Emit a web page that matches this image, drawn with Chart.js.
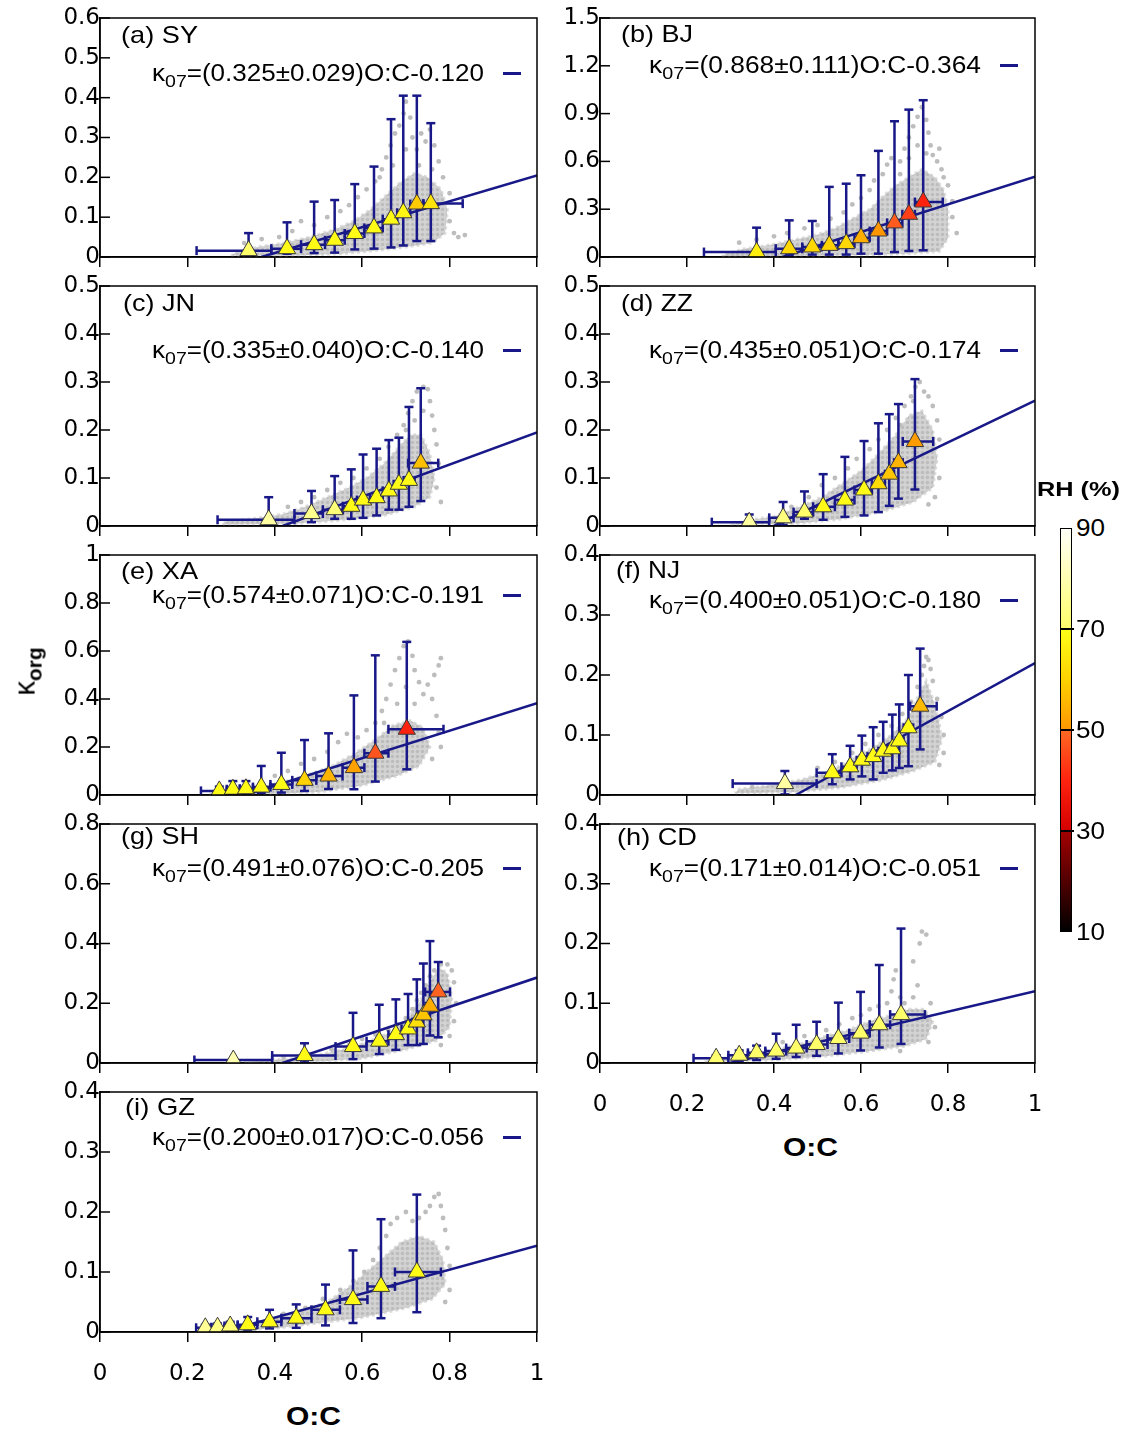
<!DOCTYPE html>
<html>
<head>
<meta charset="utf-8">
<title>korg vs O:C</title>
<script src="https://cdn.jsdelivr.net/npm/chart.js@4.4.1/dist/chart.umd.min.js"></script>
<style>
  html,body{margin:0;padding:0;background:#fff;}
  body{width:1127px;height:1432px;position:relative;overflow:hidden;font-family:"Liberation Sans",Arial,Helvetica,sans-serif;color:#000;}
  .pn{position:absolute;}
  .pn canvas{display:block;}
  .t{position:absolute;white-space:nowrap;line-height:1;transform-origin:0 50%;}
  .sub{font-size:0.75em;position:relative;top:0.36em;}
  .leg{position:absolute;height:3px;width:18px;background:#181888;}
</style>
</head>
<body>
<script>
// ---------------- DATA ----------------
const sites   = ['SY','BJ','JN','ZZ','XA','NJ','SH','CD','GZ'];
const letters = ['a','b','c','d','e','f','g','h','i'];
const yMaxes  = [0.6, 1.5, 0.5, 0.5, 1, 0.4, 0.8, 0.4, 0.4];
const ySteps  = [0.1, 0.3, 0.1, 0.1, 0.2, 0.1, 0.2, 0.1, 0.1];
const xMin = 0, xMax = 1, xStep = 0.2;
const rhTicks = [90, 70, 50, 30, 10];

// (a) SY
const SY_oc   = [0.340,0.428,0.490,0.537,0.583,0.627,0.666,0.694,0.725,0.757];
const SY_k    = [0.016,0.021,0.031,0.042,0.059,0.073,0.095,0.111,0.133,0.134];
const SY_kLo  = [0.004,0.008,0.010,0.011,0.019,0.021,0.024,0.029,0.040,0.040];
const SY_kHi  = [0.060,0.087,0.139,0.143,0.183,0.227,0.346,0.405,0.405,0.336];
const SY_ocLo = [0.221,0.392,0.460,0.515,0.560,0.605,0.647,0.680,0.710,0.740];
const SY_ocHi = [0.392,0.460,0.515,0.560,0.605,0.647,0.680,0.710,0.740,0.830];
const SY_rh   = [70,69,69,69,69,69,69,68,59,64];
const SY_fit  = [0.325,0.029,-0.120];
const SY_core = [[0.30,0.003],[0.45,0.004],[0.55,0.008],[0.62,0.015],[0.70,0.025],[0.76,0.035],[0.79,0.06],[0.795,0.12],[0.78,0.17],[0.75,0.20],[0.72,0.21],[0.69,0.19],[0.66,0.16],[0.62,0.12],[0.58,0.09],[0.54,0.07],[0.48,0.05],[0.42,0.035],[0.36,0.025],[0.31,0.012]];
const SY_dots = [[0.33,0.035],[0.37,0.045],[0.41,0.05],[0.44,0.065],[0.46,0.09],[0.49,0.08],[0.52,0.10],[0.55,0.115],[0.57,0.13],[0.59,0.15],[0.61,0.17],[0.63,0.19],[0.645,0.22],[0.655,0.25],[0.665,0.28],[0.675,0.31],[0.685,0.33],[0.695,0.36],[0.70,0.39],[0.71,0.35],[0.715,0.30],[0.725,0.27],[0.735,0.31],[0.745,0.29],[0.755,0.32],[0.765,0.28],[0.775,0.24],[0.785,0.20],[0.80,0.16],[0.81,0.06],[0.82,0.05],[0.835,0.055],[0.80,0.09],[0.67,0.23],[0.70,0.27],[0.73,0.23],[0.76,0.22],[0.64,0.20]];

// (b) BJ
const BJ_oc   = [0.360,0.435,0.488,0.527,0.566,0.600,0.640,0.677,0.710,0.743];
const BJ_k    = [0.031,0.052,0.063,0.073,0.084,0.121,0.163,0.214,0.268,0.345];
const BJ_kLo  = [0.004,0.010,0.015,0.015,0.015,0.021,0.021,0.031,0.038,0.042];
const BJ_kHi  = [0.184,0.230,0.226,0.440,0.460,0.513,0.666,0.852,0.925,0.984];
const BJ_ocLo = [0.239,0.404,0.465,0.510,0.548,0.585,0.620,0.660,0.695,0.724];
const BJ_ocHi = [0.404,0.465,0.510,0.548,0.585,0.620,0.660,0.695,0.724,0.788];
const BJ_rh   = [66,61,61,60,61,54,50,48,44,40];
const BJ_fit  = [0.868,0.111,-0.364];
const BJ_core = [[0.28,0.004],[0.45,0.006],[0.60,0.012],[0.70,0.02],[0.78,0.035],[0.80,0.12],[0.80,0.30],[0.79,0.42],[0.77,0.50],[0.74,0.55],[0.71,0.50],[0.68,0.45],[0.65,0.38],[0.62,0.30],[0.58,0.24],[0.54,0.18],[0.50,0.14],[0.45,0.11],[0.40,0.08],[0.33,0.05],[0.29,0.02]];
const BJ_dots = [[0.32,0.09],[0.36,0.11],[0.40,0.13],[0.43,0.15],[0.47,0.18],[0.50,0.20],[0.53,0.24],[0.56,0.28],[0.58,0.33],[0.60,0.37],[0.62,0.42],[0.63,0.48],[0.65,0.52],[0.66,0.58],[0.67,0.62],[0.69,0.60],[0.70,0.68],[0.71,0.75],[0.72,0.82],[0.73,0.88],[0.74,0.94],[0.75,0.86],[0.755,0.78],[0.76,0.70],[0.765,0.64],[0.775,0.60],[0.78,0.68],[0.785,0.55],[0.79,0.50],[0.80,0.45],[0.81,0.35],[0.81,0.25],[0.82,0.15],[0.73,0.70],[0.71,0.62],[0.75,0.65],[0.69,0.52]];

// (c) JN
const JN_oc   = [0.386,0.484,0.537,0.575,0.602,0.633,0.661,0.684,0.707,0.734];
const JN_k    = [0.013,0.026,0.034,0.041,0.054,0.059,0.073,0.087,0.095,0.131];
const JN_kLo  = [0.001,0.008,0.015,0.015,0.017,0.022,0.034,0.034,0.040,0.052];
const JN_kHi  = [0.060,0.073,0.104,0.118,0.149,0.161,0.179,0.184,0.248,0.287];
const JN_ocLo = [0.269,0.445,0.510,0.556,0.588,0.618,0.647,0.672,0.695,0.705];
const JN_ocHi = [0.445,0.510,0.556,0.588,0.618,0.647,0.672,0.695,0.720,0.774];
const JN_rh   = [78,75,72,69,69,69,69,69,69,57];
const JN_fit  = [0.335,0.040,-0.140];
const JN_core = [[0.28,0.003],[0.45,0.005],[0.55,0.012],[0.65,0.022],[0.72,0.04],[0.755,0.06],[0.765,0.10],[0.755,0.15],[0.735,0.19],[0.71,0.19],[0.68,0.16],[0.65,0.13],[0.61,0.10],[0.57,0.08],[0.52,0.06],[0.47,0.04],[0.42,0.025],[0.35,0.015],[0.29,0.01]];
const JN_dots = [[0.43,0.04],[0.46,0.05],[0.49,0.06],[0.52,0.075],[0.55,0.09],[0.58,0.10],[0.61,0.12],[0.64,0.14],[0.66,0.165],[0.68,0.19],[0.695,0.21],[0.705,0.235],[0.715,0.26],[0.725,0.28],[0.74,0.29],[0.75,0.285],[0.755,0.26],[0.76,0.23],[0.765,0.20],[0.77,0.17],[0.775,0.13],[0.77,0.08],[0.78,0.05],[0.72,0.22],[0.74,0.24],[0.70,0.20]];

// (d) ZZ
const ZZ_oc   = [0.343,0.421,0.470,0.513,0.563,0.607,0.640,0.665,0.686,0.724];
const ZZ_k    = [0.008,0.017,0.029,0.040,0.054,0.075,0.088,0.108,0.132,0.176];
const ZZ_kLo  = [0.001,0.002,0.015,0.013,0.019,0.022,0.029,0.042,0.057,0.076];
const ZZ_kHi  = [0.024,0.050,0.072,0.108,0.144,0.177,0.214,0.233,0.254,0.306];
const ZZ_ocLo = [0.257,0.389,0.445,0.490,0.540,0.585,0.625,0.655,0.676,0.696];
const ZZ_ocHi = [0.389,0.445,0.490,0.540,0.585,0.625,0.655,0.676,0.696,0.766];
const ZZ_rh   = [78,73,70,69,69,69,62,58,55,51];
const ZZ_fit  = [0.435,0.051,-0.174];
const ZZ_core = [[0.30,0.003],[0.45,0.005],[0.55,0.014],[0.65,0.03],[0.72,0.05],[0.765,0.08],[0.775,0.14],[0.765,0.20],[0.74,0.24],[0.71,0.23],[0.68,0.19],[0.64,0.15],[0.60,0.115],[0.56,0.09],[0.51,0.06],[0.46,0.04],[0.40,0.02],[0.34,0.012]];
const ZZ_dots = [[0.44,0.04],[0.48,0.06],[0.51,0.085],[0.54,0.10],[0.57,0.12],[0.59,0.14],[0.62,0.16],[0.64,0.18],[0.66,0.20],[0.68,0.225],[0.70,0.25],[0.715,0.27],[0.725,0.29],[0.735,0.30],[0.745,0.28],[0.755,0.27],[0.765,0.25],[0.775,0.22],[0.78,0.18],[0.78,0.10],[0.77,0.06],[0.755,0.045],[0.72,0.26],[0.69,0.21]];

// (e) XA
const XA_oc   = [0.273,0.304,0.334,0.369,0.415,0.468,0.523,0.581,0.630,0.702];
const XA_k    = [0.017,0.024,0.026,0.033,0.044,0.061,0.079,0.114,0.174,0.274];
const XA_kLo  = [0.002,0.004,0.006,0.008,0.010,0.017,0.025,0.024,0.056,0.107];
const XA_kHi  = [0.035,0.058,0.058,0.121,0.176,0.229,0.257,0.415,0.582,0.638];
const XA_ocLo = [0.231,0.290,0.320,0.350,0.390,0.440,0.495,0.555,0.605,0.660];
const XA_ocHi = [0.290,0.320,0.350,0.390,0.440,0.495,0.555,0.605,0.660,0.786];
const XA_rh   = [69,69,69,69,69,60,55,52,47,40];
const XA_fit  = [0.574,0.071,-0.191];
const XA_core = [[0.25,0.003],[0.40,0.005],[0.50,0.012],[0.60,0.04],[0.68,0.08],[0.73,0.12],[0.755,0.20],[0.74,0.28],[0.71,0.31],[0.67,0.29],[0.63,0.23],[0.58,0.17],[0.53,0.12],[0.47,0.08],[0.41,0.05],[0.34,0.025],[0.28,0.015]];
const XA_dots = [[0.40,0.08],[0.43,0.10],[0.46,0.13],[0.49,0.15],[0.52,0.18],[0.545,0.22],[0.565,0.255],[0.59,0.24],[0.61,0.27],[0.63,0.30],[0.645,0.35],[0.655,0.40],[0.665,0.46],[0.675,0.52],[0.685,0.57],[0.695,0.62],[0.705,0.64],[0.715,0.58],[0.72,0.52],[0.73,0.47],[0.74,0.42],[0.75,0.46],[0.76,0.40],[0.765,0.50],[0.775,0.54],[0.78,0.57],[0.77,0.33],[0.775,0.26],[0.78,0.20],[0.76,0.15],[0.70,0.45],[0.68,0.38],[0.72,0.38],[0.65,0.30]];

// (f) NJ
const NJ_oc   = [0.425,0.534,0.575,0.602,0.628,0.651,0.672,0.688,0.709,0.736];
const NJ_k    = [0.019,0.037,0.047,0.058,0.064,0.073,0.077,0.090,0.112,0.148];
const NJ_kLo  = [0.001,0.018,0.026,0.031,0.026,0.037,0.041,0.045,0.048,0.076];
const NJ_kHi  = [0.040,0.068,0.082,0.099,0.113,0.122,0.134,0.151,0.200,0.244];
const NJ_ocLo = [0.305,0.498,0.555,0.590,0.615,0.640,0.662,0.680,0.698,0.713];
const NJ_ocHi = [0.498,0.555,0.590,0.615,0.640,0.662,0.680,0.698,0.720,0.774];
const NJ_rh   = [78,69,69,69,69,69,69,69,69,56];
const NJ_fit  = [0.400,0.051,-0.180];
const NJ_core = [[0.31,0.003],[0.45,0.005],[0.55,0.012],[0.65,0.025],[0.72,0.04],[0.77,0.055],[0.785,0.09],[0.78,0.12],[0.765,0.16],[0.75,0.19],[0.735,0.17],[0.71,0.13],[0.67,0.10],[0.63,0.08],[0.58,0.06],[0.53,0.04],[0.46,0.025],[0.38,0.015],[0.32,0.01]];
const NJ_dots = [[0.50,0.045],[0.54,0.055],[0.58,0.07],[0.61,0.085],[0.64,0.10],[0.67,0.115],[0.695,0.135],[0.715,0.155],[0.73,0.18],[0.74,0.20],[0.745,0.215],[0.75,0.23],[0.755,0.225],[0.76,0.21],[0.765,0.19],[0.775,0.16],[0.785,0.13],[0.79,0.10],[0.79,0.07],[0.78,0.05],[0.35,0.013],[0.42,0.02]];

// (g) SH
const SH_oc   = [0.305,0.468,0.579,0.639,0.677,0.705,0.725,0.740,0.755,0.774];
const SH_k    = [0.010,0.025,0.055,0.073,0.095,0.114,0.137,0.161,0.190,0.238];
const SH_kLo  = [0.001,0.002,0.013,0.030,0.044,0.060,0.060,0.064,0.092,0.086];
const SH_kHi  = [0.012,0.066,0.168,0.195,0.213,0.231,0.280,0.333,0.408,0.338];
const SH_ocLo = [0.216,0.394,0.539,0.610,0.660,0.690,0.715,0.730,0.745,0.744];
const SH_ocHi = [0.394,0.539,0.610,0.660,0.690,0.715,0.730,0.745,0.760,0.801];
const SH_rh   = [80,69,69,69,69,69,63,58,54,49];
const SH_fit  = [0.491,0.076,-0.205];
const SH_core = [[0.33,0.002],[0.50,0.005],[0.60,0.015],[0.70,0.045],[0.77,0.075],[0.80,0.12],[0.805,0.22],[0.795,0.30],[0.775,0.32],[0.755,0.27],[0.73,0.20],[0.70,0.14],[0.66,0.10],[0.62,0.075],[0.57,0.05],[0.51,0.03],[0.44,0.015],[0.37,0.008]];
const SH_dots = [[0.42,0.02],[0.48,0.03],[0.53,0.045],[0.57,0.06],[0.60,0.08],[0.63,0.095],[0.66,0.11],[0.68,0.13],[0.70,0.15],[0.715,0.18],[0.725,0.21],[0.735,0.235],[0.745,0.26],[0.755,0.29],[0.765,0.31],[0.78,0.33],[0.795,0.33],[0.805,0.31],[0.81,0.27],[0.815,0.20],[0.81,0.14],[0.80,0.09],[0.78,0.06]];

// (h) CD
const CD_oc   = [0.267,0.320,0.360,0.405,0.451,0.498,0.548,0.599,0.642,0.692];
const CD_k    = [0.008,0.013,0.017,0.020,0.025,0.031,0.041,0.050,0.064,0.081];
const CD_kLo  = [0.001,0.003,0.005,0.007,0.010,0.012,0.016,0.021,0.026,0.032];
const CD_kHi  = [0.013,0.021,0.029,0.049,0.064,0.069,0.101,0.119,0.164,0.225];
const CD_ocLo = [0.215,0.295,0.340,0.380,0.428,0.475,0.523,0.573,0.620,0.667];
const CD_ocHi = [0.295,0.340,0.380,0.428,0.475,0.523,0.573,0.620,0.667,0.747];
const CD_rh   = [71,70,70,70,70,70,70,70,70,70];
const CD_fit  = [0.171,0.014,-0.051];
const CD_core = [[0.24,0.002],[0.40,0.005],[0.50,0.010],[0.60,0.018],[0.70,0.028],[0.75,0.04],[0.765,0.07],[0.745,0.09],[0.71,0.09],[0.67,0.08],[0.62,0.07],[0.57,0.055],[0.52,0.045],[0.46,0.032],[0.38,0.018],[0.30,0.01]];
const CD_dots = [[0.42,0.035],[0.47,0.045],[0.52,0.055],[0.55,0.065],[0.58,0.075],[0.60,0.08],[0.62,0.09],[0.64,0.095],[0.66,0.10],[0.67,0.12],[0.675,0.14],[0.68,0.155],[0.69,0.11],[0.70,0.10],[0.72,0.11],[0.73,0.13],[0.735,0.20],[0.74,0.22],[0.75,0.215],[0.72,0.17],[0.76,0.10],[0.77,0.06],[0.755,0.035],[0.69,0.02]];

// (i) GZ
const GZ_oc   = [0.241,0.269,0.298,0.338,0.388,0.449,0.516,0.579,0.643,0.725];
const GZ_k    = [0.007,0.008,0.010,0.012,0.017,0.023,0.037,0.054,0.076,0.100];
const GZ_kLo  = [0.002,0.003,0.004,0.004,0.006,0.007,0.011,0.015,0.023,0.033];
const GZ_kHi  = [0.012,0.014,0.017,0.025,0.037,0.046,0.079,0.136,0.188,0.229];
const GZ_ocLo = [0.220,0.255,0.285,0.315,0.360,0.415,0.484,0.549,0.612,0.675];
const GZ_ocHi = [0.255,0.285,0.315,0.360,0.415,0.484,0.549,0.612,0.675,0.780];
const GZ_rh   = [76,74,72,69,69,69,69,69,69,69];
const GZ_fit  = [0.200,0.017,-0.056];
const GZ_core = [[0.24,0.002],[0.40,0.006],[0.50,0.015],[0.60,0.024],[0.70,0.04],[0.76,0.055],[0.79,0.08],[0.785,0.12],[0.765,0.15],[0.73,0.16],[0.69,0.15],[0.65,0.125],[0.61,0.10],[0.57,0.075],[0.52,0.05],[0.46,0.035],[0.38,0.018],[0.30,0.01]];
const GZ_dots = [[0.42,0.03],[0.47,0.04],[0.51,0.055],[0.55,0.07],[0.58,0.085],[0.605,0.10],[0.625,0.12],[0.64,0.14],[0.655,0.16],[0.665,0.18],[0.68,0.19],[0.70,0.20],[0.715,0.185],[0.73,0.19],[0.745,0.20],[0.755,0.21],[0.765,0.225],[0.775,0.23],[0.78,0.21],[0.785,0.19],[0.79,0.17],[0.795,0.14],[0.80,0.11],[0.80,0.07],[0.79,0.05]];

// table built from the arrays
const DATA = {
  SY:{oc:SY_oc,k:SY_k,kLo:SY_kLo,kHi:SY_kHi,ocLo:SY_ocLo,ocHi:SY_ocHi,rh:SY_rh,fit:SY_fit,core:SY_core,dots:SY_dots},
  BJ:{oc:BJ_oc,k:BJ_k,kLo:BJ_kLo,kHi:BJ_kHi,ocLo:BJ_ocLo,ocHi:BJ_ocHi,rh:BJ_rh,fit:BJ_fit,core:BJ_core,dots:BJ_dots},
  JN:{oc:JN_oc,k:JN_k,kLo:JN_kLo,kHi:JN_kHi,ocLo:JN_ocLo,ocHi:JN_ocHi,rh:JN_rh,fit:JN_fit,core:JN_core,dots:JN_dots},
  ZZ:{oc:ZZ_oc,k:ZZ_k,kLo:ZZ_kLo,kHi:ZZ_kHi,ocLo:ZZ_ocLo,ocHi:ZZ_ocHi,rh:ZZ_rh,fit:ZZ_fit,core:ZZ_core,dots:ZZ_dots},
  XA:{oc:XA_oc,k:XA_k,kLo:XA_kLo,kHi:XA_kHi,ocLo:XA_ocLo,ocHi:XA_ocHi,rh:XA_rh,fit:XA_fit,core:XA_core,dots:XA_dots},
  NJ:{oc:NJ_oc,k:NJ_k,kLo:NJ_kLo,kHi:NJ_kHi,ocLo:NJ_ocLo,ocHi:NJ_ocHi,rh:NJ_rh,fit:NJ_fit,core:NJ_core,dots:NJ_dots},
  SH:{oc:SH_oc,k:SH_k,kLo:SH_kLo,kHi:SH_kHi,ocLo:SH_ocLo,ocHi:SH_ocHi,rh:SH_rh,fit:SH_fit,core:SH_core,dots:SH_dots},
  CD:{oc:CD_oc,k:CD_k,kLo:CD_kLo,kHi:CD_kHi,ocLo:CD_ocLo,ocHi:CD_ocHi,rh:CD_rh,fit:CD_fit,core:CD_core,dots:CD_dots},
  GZ:{oc:GZ_oc,k:GZ_k,kLo:GZ_kLo,kHi:GZ_kHi,ocLo:GZ_ocLo,ocHi:GZ_ocHi,rh:GZ_rh,fit:GZ_fit,core:GZ_core,dots:GZ_dots}
};

// ---------------- STYLE / LAYOUT ----------------
const NAVY = '#181888';
const CLOUD = '#bdbdbd';
const COLS = [{left:100,right:537},{left:600,right:1035}];
const ROWS = [{top:18,bottom:257},{top:286,bottom:526},{top:555,bottom:795},{top:824,bottom:1063},{top:1092,bottom:1332}];
const panelLayout = [
  {col:0,row:0},{col:1,row:0},{col:0,row:1},{col:1,row:1},{col:0,row:2},
  {col:1,row:2},{col:0,row:3},{col:1,row:3,xlab:true},{col:0,row:4,xlab:true}
];
const labelPos = [[121,35,77],[621,34,72],[123,303,72],[621,303,72],[121,571,77],[616,570,64],[121,836,78],[617,837,80],[125,1107,70]];
const eqPos = [[152,73],[649,65],[152,350],[649,350],[152,595],[649,600],[152,868],[649,868],[152,1137]];
const EQ_W = 332;
const TICK_FONT = {family:'"DejaVu Sans", sans-serif', size:23};

// dotted texture for the dense part of the measurement cloud
const cloudPattern = (function(){
  const c = document.createElement('canvas'); c.width = 5; c.height = 5;
  const g = c.getContext('2d');
  g.fillStyle = '#d3d3d3'; g.fillRect(0, 0, 5, 5);
  g.fillStyle = '#bcbcbc'; g.beginPath(); g.arc(2.5, 2.5, 1.7, 0, Math.PI * 2); g.fill();
  return g.createPattern(c, 'repeat');
})();

// colour map (RH %) -- segmented "hot" style colour bar
const CMAP = [
  {lo:70, hi:90, stops:[[70,[255,255,105]],[90,[255,255,248]]]},
  {lo:50, hi:70, stops:[[50,[255,150,0]],[60,[255,210,0]],[70,[255,255,25]]]},
  {lo:30, hi:50, stops:[[30,[212,0,0]],[40,[255,35,15]],[50,[255,105,35]]]},
  {lo:10, hi:30, stops:[[10,[0,0,0]],[30,[165,0,0]]]}
];
function rhColor(rh){
  const seg = CMAP.find(s => rh >= s.lo && rh < s.hi) || CMAP[0];
  const st = seg.stops;
  for (let i = 0; i < st.length - 1; i++) {
    if (rh <= st[i+1][0]) {
      const t = (rh - st[i][0]) / (st[i+1][0] - st[i][0]);
      const c = st[i][1].map((v, j) => Math.round(v + (st[i+1][1][j] - v) * t));
      return 'rgb(' + c.join(',') + ')';
    }
  }
  return 'rgb(' + st[st.length-1][1].join(',') + ')';
}

Chart.defaults.font.family = '"DejaVu Sans", sans-serif';
Chart.defaults.color = '#000';

const framePlugin = {
  id: 'frame',
  afterDatasetsDraw(chart){
    const {ctx, chartArea:a} = chart;
    const ys = chart.scales.y;
    ctx.save();
    ctx.strokeStyle = '#000';
    ctx.lineWidth = 1.5;
    ctx.strokeRect(a.left, a.top, a.right - a.left, a.bottom - a.top);
    ys.ticks.forEach(t => {
      const py = ys.getPixelForValue(t.value);
      ctx.beginPath(); ctx.moveTo(a.left, py); ctx.lineTo(a.left + 10, py); ctx.stroke();
    });
    ctx.restore();
  }
};

function buildPanel(i){
  const s = sites[i], d = DATA[s], L = panelLayout[i];
  const col = COLS[L.col], row = ROWS[L.row];
  const yW = 60, pr = 12, pt = 16, hX = L.xlab ? 62 : 14;
  const W = yW + (col.right - col.left) + pr;
  const H = pt + (row.bottom - row.top) + hX;
  const wrap = document.createElement('div');
  wrap.className = 'pn';
  wrap.style.left = (col.left - yW) + 'px';
  wrap.style.top = (row.top - pt) + 'px';
  wrap.style.width = W + 'px'; wrap.style.height = H + 'px';
  const cv = document.createElement('canvas');
  cv.width = W; cv.height = H; cv.style.width = W + 'px'; cv.style.height = H + 'px';
  wrap.appendChild(cv); document.body.appendChild(wrap);

  const tri = d.oc.map((x, j) => ({x, y:d.k[j]}));
  const yCaps = [], xCaps = [], yBars = [], xBars = [];
  d.oc.forEach((x, j) => {
    yCaps.push({x, y:d.kLo[j]}, {x, y:d.kHi[j]});
    xCaps.push({x:d.ocLo[j], y:d.k[j]}, {x:d.ocHi[j], y:d.k[j]});
    yBars.push({x, y:d.kLo[j]}, {x, y:d.kHi[j]}, {x, y:null});
    xBars.push({x:d.ocLo[j], y:d.k[j]}, {x:d.ocHi[j], y:d.k[j]}, {x:d.ocHi[j], y:null});
  });
  const [a, , b] = d.fit;
  const fitLine = [{x:-b / a, y:0}, {x:xMax, y:a * xMax + b}];
  const core = d.core.map(([x, y]) => ({x, y}));
  core.push({x:d.core[0][0], y:d.core[0][1]});
  const dots = d.dots.map(([x, y]) => ({x, y}));

  const datasets = [
    {label:'mean', data:tri, showLine:false, pointStyle:'triangle', pointRadius:10,
      pointBackgroundColor:d.rh.map(rhColor), pointBorderColor:'#3a3a3a', pointBorderWidth:1},
    {label:'ycap', data:yCaps, showLine:false, pointStyle:'line', pointRadius:4.5,
      pointBorderColor:NAVY, pointBorderWidth:2.5},
    {label:'xcap', data:xCaps, showLine:false, pointStyle:'line', pointRadius:4.5, pointRotation:90,
      pointBorderColor:NAVY, pointBorderWidth:2.5},
    {label:'ybar', data:yBars, showLine:true, spanGaps:false, borderColor:NAVY, borderWidth:2.5, pointRadius:0},
    {label:'xbar', data:xBars, showLine:true, spanGaps:false, borderColor:NAVY, borderWidth:2.5, pointRadius:0},
    {label:'fit', data:fitLine, showLine:true, borderColor:NAVY, borderWidth:2.5, pointRadius:0},
    {label:'data', data:dots, showLine:false, pointRadius:2.4, pointBackgroundColor:CLOUD, pointBorderWidth:0},
    {label:'cloud', data:core, showLine:true, fill:'shape', backgroundColor:cloudPattern,
      borderColor:'rgba(200,200,200,0.6)', borderWidth:3, borderDash:[3,3], pointRadius:0}
  ];

  new Chart(cv, {
    type:'scatter',
    data:{datasets},
    options:{
      responsive:false, animation:false, devicePixelRatio:1, events:[],
      layout:{padding:{left:0, right:pr, top:pt, bottom:0}, autoPadding:false},
      plugins:{legend:{display:false}, tooltip:{enabled:false}},
      scales:{
        x:{type:'linear', min:xMin, max:xMax,
          afterFit(sc){ sc.height = hX; sc.paddingLeft = 0; sc.paddingRight = 0; },
          ticks:{display:!!L.xlab, stepSize:xStep, maxRotation:0, autoSkip:false, padding:18,
            color:'#000', font:TICK_FONT,
            callback:v => String(+(+v).toFixed(1))},
          grid:{display:true, drawOnChartArea:false, drawTicks:true, tickLength:10, color:'#000', lineWidth:1.5},
          border:{display:true, color:'#000', width:1.5}},
        y:{type:'linear', min:0, max:yMaxes[i],
          afterFit(sc){ sc.width = yW; sc.paddingTop = 0; sc.paddingBottom = 0; },
          ticks:{stepSize:ySteps[i], padding:0, color:'#000', font:TICK_FONT,
            callback:v => String(+(+v).toFixed(2))},
          grid:{display:false, drawTicks:false},
          border:{display:true, color:'#000', width:1.5}}
      }
    },
    plugins:[framePlugin]
  });
}

function addText(html, left, cy, size, opts = {}){
  const el = document.createElement('div');
  el.className = 't';
  el.innerHTML = html;
  el.style.fontSize = size + 'px';
  el.style.left = left + 'px';
  el.style.top = (cy - size / 2) + 'px';
  if (opts.bold) el.style.fontWeight = 'bold';
  document.body.appendChild(el);
  const w = el.getBoundingClientRect().width;
  const sx = opts.width ? opts.width / w : 1;
  if (opts.center) el.style.left = (left - w * sx / 2) + 'px';
  el.style.transform = 'scaleX(' + sx + ')';
  return el;
}

sites.forEach((s, i) => buildPanel(i));

sites.forEach((s, i) => {
  const [lx, ly, lw] = labelPos[i];
  addText('(' + letters[i] + ') ' + s, lx, ly, 24, {width:lw});
  const [a, e, b] = DATA[s].fit;
  const eq = '\u03BA<span class="sub">07</span>=(' + a.toFixed(3) + '\u00B1' + e.toFixed(3) + ')O:C' +
             (b < 0 ? '-' : '+') + Math.abs(b).toFixed(3);
  const [ex, ey] = eqPos[i];
  addText(eq, ex, ey, 23, {width:EQ_W});
  const lg = document.createElement('div');
  lg.className = 'leg';
  lg.style.left = (ex + 351) + 'px';
  lg.style.top = (ey - 1) + 'px';
  document.body.appendChild(lg);
});

// axis titles
addText('O:C', 313, 1416, 25, {bold:true, width:55, center:true});
addText('O:C', 810, 1147, 25, {bold:true, width:55, center:true});
(function(){
  const el = document.createElement('div');
  el.className = 't';
  el.style.fontSize = '29px';
  el.innerHTML = '\u03BA<span style="font-weight:bold;font-size:0.72em;position:relative;top:0.32em">org</span>';
  document.body.appendChild(el);
  const r = el.getBoundingClientRect();
  el.style.transformOrigin = '50% 50%';
  el.style.left = (25 - r.width / 2) + 'px';
  el.style.top = (671 - r.height / 2) + 'px';
  el.style.transform = 'rotate(-90deg)';
})();

// colour bar
(function(){
  const top = 528, bot = 932, left = 1060, w = 12;
  const pos = rh => ((rhTicks[0] - rh) / (rhTicks[0] - rhTicks[rhTicks.length-1]) * 100).toFixed(2) + '%';
  const parts = [];
  CMAP.forEach(seg => {
    for (let k = seg.stops.length - 1; k >= 0; k--) {
      const [rh, c] = seg.stops[k];
      parts.push('rgb(' + c.join(',') + ') ' + pos(rh));
    }
  });
  const bar = document.createElement('div');
  bar.style.cssText = 'position:absolute;left:' + left + 'px;top:' + top + 'px;width:' + w + 'px;height:' + (bot - top) +
    'px;box-sizing:border-box;border:1px solid #000;background:linear-gradient(to bottom,' + parts.join(',') + ');';
  document.body.appendChild(bar);
  rhTicks.forEach(v => {
    const y = top + (rhTicks[0] - v) / (rhTicks[0] - rhTicks[rhTicks.length-1]) * (bot - top);
    if (v !== rhTicks[0] && v !== rhTicks[rhTicks.length-1]) {
      const tk = document.createElement('div');
      tk.style.cssText = 'position:absolute;left:' + left + 'px;top:' + (y - 1) + 'px;width:' + (w + 2) + 'px;height:2px;background:#000;';
      document.body.appendChild(tk);
    }
    addText(String(v), 1076, y, 24, {width:29});
  });
  addText('RH (%)', 1037, 488, 21, {bold:true, width:83});
})();
</script>
</body>
</html>
